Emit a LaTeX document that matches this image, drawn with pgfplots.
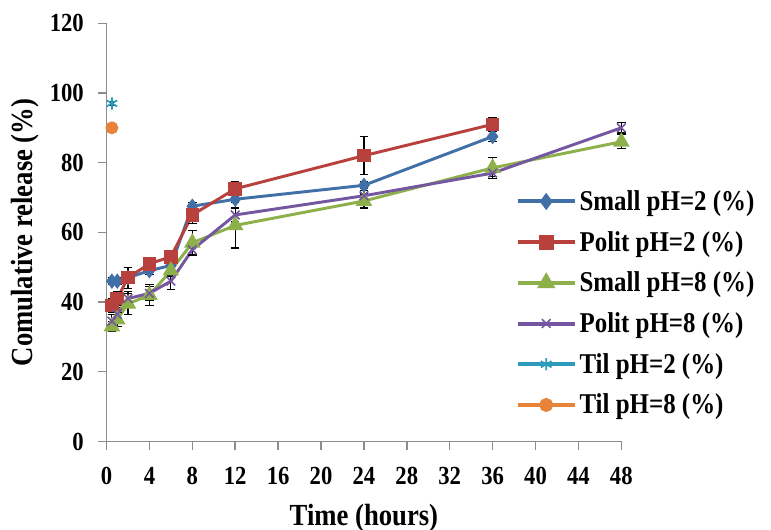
\documentclass[border=0pt]{standalone}
\usepackage{graphicx}
\usepackage{pgfplots}
\pgfplotsset{compat=1.18}
\usepackage{fontspec}
\setmainfont{Liberation Serif}
\definecolor{cblue}{HTML}{4170A8}
\definecolor{cred}{HTML}{B8413D}
\definecolor{cgreen}{HTML}{8DB04B}
\definecolor{cpurple}{HTML}{7457A0}
\definecolor{cteal}{HTML}{2E9BBA}
\definecolor{corange}{HTML}{E8843A}
\definecolor{axgray}{HTML}{8C8C8C}
\newcommand{\vs}[1]{\scalebox{1}[1.15]{#1}}
\begin{document}
\begin{tikzpicture}
\begin{axis}[
  scale only axis,
  width=386.1pt, height=313.65pt,
  xmin=0, xmax=48, ymin=0, ymax=120,
  xtick={0,4,...,48}, ytick={0,20,...,120},
  axis lines=left,
  axis line style={axgray, line width=1.1pt, -},
  tick style={axgray, line width=1.1pt},
  tick align=outside,
  major tick length=6.5pt,
  /pgf/number format/assume math mode=true,
  tick label style={font=\bfseries\fontsize{17}{20}\selectfont},
  xticklabel={\vs{\pgfmathprintnumber{\tick}}},
  yticklabel={\vs{\pgfmathprintnumber{\tick}}},
  xticklabel style={yshift=-9.5pt},
  yticklabel style={xshift=-7pt},
  xlabel={\vs{Time (hours)}},
  ylabel={\vs{Comulative release (\%)}},
  label style={font=\bfseries\fontsize{20}{24}\selectfont},
  xlabel style={at={(rel axis cs:0.5,-0.183)}, anchor=center},
  ylabel style={at={(rel axis cs:-0.1583,0.5)}, anchor=center},
  clip=false,
  legend style={at={(rel axis cs:0.794,0.607)}, anchor=north west, draw=none, fill=none,
    font=\bfseries\fontsize{18.7}{22}\selectfont, row sep=10.1pt, inner sep=0pt,
    /tikz/every even column/.style={column sep=6.5pt}},
  legend cell align=left,
  legend image code/.code={\draw[mark repeat=2,mark phase=2,line width=3pt] plot coordinates {(0pt,0pt) (21.5pt,0pt) (43pt,0pt)};},
  every axis plot/.append style={line width=2.2pt},
  error bars/y dir=both, error bars/y explicit,
  error bars/error bar style={black, line width=0.9pt},
  error bars/error mark options={rotate=90, black, mark size=3.2pt, line width=0.9pt},
]
\coordinate (SW) at (rel axis cs:0,0);
\addplot[cblue, mark=diamond*, mark size=4pt, mark options={solid, fill=cblue}] table[x=x, y=y, y error=e] {
x y e
0.5 46 1
1 46 1
2 47 1.5
4 49 1
6 50.5 1
8 67.5 1
12 69.5 1
24 73.5 1
36 87.5 1.5
};
\addlegendentry{\vs{Small pH=2 (\%)}}
\addplot[cred, mark=square*, mark size=4pt, mark options={solid, fill=cred}] table[x=x, y=y, y error=e] {
x y e
0.5 39 2
1 41 2
2 47 3
4 51 1.5
6 53 1
8 65 2.5
12 72.5 2
24 82 5.5
36 91 2
};
\addlegendentry{\vs{Polit pH=2 (\%)}}
\addplot[cgreen, mark=triangle*, mark size=5pt, mark options={solid, fill=cgreen}] table[x=x, y=y, y error=e] {
x y e
0.5 33 1.5
1 35 2
2 39.5 3
4 42 3
6 49 1.5
8 57 3.5
12 62 6.5
24 69 2
36 78.5 3
48 86 2
};
\addlegendentry{\vs{Small pH=8 (\%)}}
\addplot[cpurple, mark=x, mark size=4.6pt, mark options={solid, line width=1.2pt}] table[x=x, y=y, y error=e] {
x y e
0.5 34.5 2
1 36.5 2
2 41 2
4 42.5 2
6 46 2.5
8 55 1.5
12 65 2
24 70.5 1.5
36 77 1
48 90 1.5
};
\addlegendentry{\vs{Polit pH=8 (\%)}}
\addplot[cteal, mark=asterisk, mark size=4.6pt, mark options={solid, line width=1.3pt}] table[x=x, y=y, y error=e] {
x y e
0.5 97 0.5
};
\addlegendentry{\vs{Til pH=2 (\%)}}
\addplot[corange, mark=*, mark size=3.7pt, mark options={solid, fill=corange}] table[x=x, y=y, y error=e] {
x y e
0.5 90 0.5
};
\addlegendentry{\vs{Til pH=8 (\%)}}
\end{axis}
\pgfresetboundingbox
\path[use as bounding box] ([shift={(-79.9pt,-66.4pt)}]SW) rectangle ++(578.25pt,397.5pt);
\end{tikzpicture}
\end{document}
